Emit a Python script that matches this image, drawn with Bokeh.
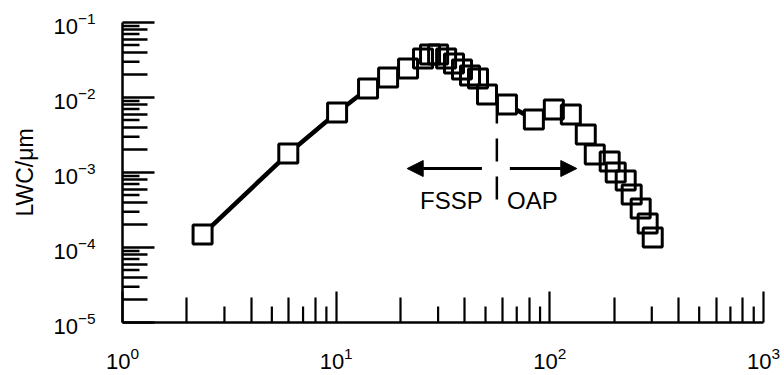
from bokeh.plotting import figure
from bokeh.models import Range1d, LinearScale, FixedTicker, Arrow, NormalHead, Label
from bokeh.embed import file_html
from bokeh.resources import INLINE

# ---- data ----
diameter_um = [2.37, 5.97, 10.1, 14.1, 17.5, 21.7, 25.5, 27.5, 30.0, 32.7,
               35.6, 38.8, 42.3, 46.1, 50.8, 63.0, 84.2, 104.4, 125.4, 147.3,
               162.3, 190.6, 203.4, 226.5, 241.6, 266.2, 287.0, 303.1]
lwc_per_um = [1.49e-4, 1.79e-3, 6.31e-3, 1.32e-2, 1.85e-2, 2.44e-2, 3.31e-2, 3.74e-2, 3.74e-2, 3.31e-2,
              2.84e-2, 2.36e-2, 1.97e-2, 1.79e-2, 1.10e-2, 8.07e-3, 5.09e-3, 6.92e-3, 5.93e-3, 3.21e-3,
              1.74e-3, 1.40e-3, 1.00e-3, 7.82e-4, 5.09e-4, 3.31e-4, 2.09e-4, 1.36e-4]

x_major = [1, 10, 100, 1000]
y_major = [1e-5, 1e-4, 1e-3, 1e-2, 1e-1]
x_decades = [1, 10, 100]
y_decades = [1e-5, 1e-4, 1e-3, 1e-2]
even_mult = [2, 4, 6, 8]
odd_mult = [3, 5, 7, 9]

x_even = [d * m for d in x_decades for m in even_mult]
x_odd = [d * m for d in x_decades for m in odd_mult]
y_even = [d * m for d in y_decades for m in even_mult]
y_odd = [d * m for d in y_decades for m in odd_mult]

FONT = "Liberation Sans"

p = figure(width=784, height=375, x_axis_type="log", y_axis_type="log",
           x_range=Range1d(1, 1000), y_range=Range1d(1e-5, 1e-1),
           min_border_left=122, min_border_right=21, min_border_top=22, min_border_bottom=53,
           output_backend="svg", toolbar_location=None)
p.outline_line_color = None
p.grid.visible = False
p.background_fill_color = "white"
p.border_fill_color = "white"

# pixel-linear helper ranges for the short tick marks
p.extra_x_ranges = {"px": Range1d(0, 641)}
p.extra_x_scales = {"px": LinearScale()}
p.extra_y_ranges = {"px": Range1d(0, 300)}
p.extra_y_scales = {"px": LinearScale()}

xa = p.xaxis[0]
xa.ticker = FixedTicker(ticks=x_major, minor_ticks=x_even)
xa.major_tick_in = 31
xa.major_tick_out = 0
xa.minor_tick_in = 25
xa.minor_tick_out = 0
xa.major_tick_line_width = 2.2
xa.minor_tick_line_width = 2.2
xa.axis_line_width = 2.5
xa.axis_line_color = "black"
xa.major_label_text_font = FONT
xa.major_label_text_font_size = "22px"
xa.major_label_text_color = "black"
xa.major_label_standoff = 24

ya = p.yaxis[0]
ya.ticker = FixedTicker(ticks=y_major, minor_ticks=y_even)
ya.major_tick_in = 32
ya.major_tick_out = 0
ya.minor_tick_in = 25
ya.minor_tick_out = 0
ya.major_tick_line_width = 2.5
ya.minor_tick_line_width = 2.5
ya.axis_line_width = 2.5
ya.axis_line_color = "black"
ya.major_label_text_font = FONT
ya.major_label_text_font_size = "22px"
ya.major_label_text_color = "black"
ya.major_label_standoff = 27
ya.axis_label = "LWC/\u03bcm"
ya.axis_label_text_font = FONT
ya.axis_label_text_font_size = "23px"
ya.axis_label_text_font_style = "normal"
ya.axis_label_text_color = "black"
ya.axis_label_standoff = 12

# short (odd) minor ticks
p.segment(x0=x_odd, x1=x_odd, y0=0, y1=16, y_range_name="px", line_width=2.2, color="black")
p.segment(x0=0, x1=17, y0=y_odd, y1=y_odd, x_range_name="px", line_width=2.5, color="black")

# data
p.line(diameter_um, lwc_per_um, line_width=4.5, color="black")
p.scatter(diameter_um, lwc_per_um, marker="square", size=19, fill_color="white", line_color=None)
p.scatter(diameter_um, lwc_per_um, marker="square", size=19, fill_color=None,
          line_color="black", line_width=3)

# FSSP / OAP boundary and annotations
boundary_um = 56.5
p.segment(x0=[boundary_um], x1=[boundary_um], y0=[9.12e-3], y1=[4.37e-4],
          line_dash="23 15", line_width=2.5, color="black")

arrow_y = 1.13e-3
p.add_layout(Arrow(end=NormalHead(size=16, fill_color="black", line_color="black", line_width=1),
                   x_start=48.1, y_start=arrow_y, x_end=21.5, y_end=arrow_y,
                   line_width=3, line_color="black"))
p.add_layout(Arrow(end=NormalHead(size=16, fill_color="black", line_color="black", line_width=1),
                   x_start=65.0, y_start=arrow_y, x_end=133.7, y_end=arrow_y,
                   line_width=3, line_color="black"))

p.add_layout(Label(x=24.7, y=4.23e-4, text="FSSP", text_align="left", text_baseline="alphabetic",
                   text_font=FONT, text_font_size="24px", text_color="black"))
p.add_layout(Label(x=63.0, y=4.23e-4, text="OAP", text_align="left", text_baseline="alphabetic",
                   text_font=FONT, text_font_size="24px", text_color="black"))

open("out.html", "w").write(file_html(p, INLINE))
